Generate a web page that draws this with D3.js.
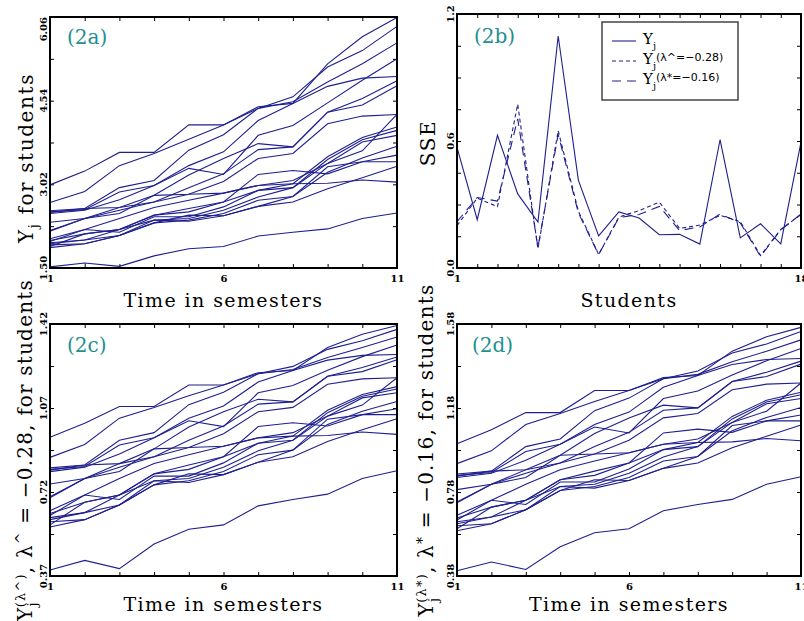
<!DOCTYPE html>
<html>
<head>
<meta charset="utf-8">
<script src="https://cdn.jsdelivr.net/npm/d3@7"></script>
<style>
  body { margin: 0; background: #fff; }
  svg { display: block; }
  text { font-family: "DejaVu Serif", serif; fill: #000; white-space: pre; }
</style>
</head>
<body>
<svg id="canvas" width="804" height="621"></svg>
<script>
const semesters = [1, 2, 3, 4, 5, 6, 7, 8, 9, 10, 11];
const students = [1, 2, 3, 4, 5, 6, 7, 8, 9, 10, 11, 12, 13, 14, 15, 16, 17, 18];

// Y_j (2a): one row per student, one value per semester
const studentScores = [
  [3.01, 3.26, 3.60, 3.60, 4.10, 4.10, 4.40, 4.52, 4.88, 5.21, 5.59],
  [2.69, 2.89, 3.36, 3.58, 3.84, 4.10, 4.43, 4.49, 5.21, 5.70, 6.05],
  [2.54, 2.58, 2.96, 3.09, 3.64, 3.92, 4.40, 4.61, 5.15, 5.45, 5.89],
  [2.52, 2.56, 2.88, 3.00, 3.36, 3.61, 4.18, 4.49, 4.80, 4.95, 4.98],
  [2.49, 2.55, 2.74, 3.00, 3.31, 3.20, 3.91, 4.09, 4.50, 4.91, 5.30],
  [2.51, 2.58, 2.60, 2.82, 3.19, 3.49, 3.76, 3.70, 4.33, 4.58, 4.90],
  [2.18, 2.40, 2.60, 2.70, 2.96, 3.21, 3.65, 3.70, 4.33, 4.46, 4.81],
  [2.17, 2.40, 2.49, 2.82, 2.84, 3.07, 3.49, 3.58, 4.12, 4.26, 4.29],
  [2.03, 2.20, 2.40, 2.60, 2.73, 2.86, 3.00, 3.09, 3.40, 3.63, 4.29],
  [2.00, 2.12, 2.20, 2.46, 2.58, 2.70, 2.91, 3.03, 3.52, 3.87, 4.06],
  [1.98, 2.20, 2.15, 2.43, 2.43, 2.61, 2.91, 2.96, 3.47, 3.83, 4.00],
  [1.96, 2.01, 2.20, 2.37, 2.40, 2.55, 2.79, 2.96, 3.40, 3.79, 3.91],
  [1.94, 2.01, 2.09, 2.32, 2.37, 2.49, 2.73, 2.80, 3.24, 3.50, 3.71],
  [1.92, 1.94, 2.09, 2.37, 2.35, 2.45, 2.62, 2.80, 3.34, 3.43, 3.55],
  [1.89, 2.12, 2.20, 2.46, 2.52, 2.70, 3.20, 3.27, 3.21, 3.43, 3.43],
  [1.87, 1.94, 2.09, 2.32, 2.46, 2.45, 2.62, 2.70, 2.94, 3.14, 3.35],
  [2.33, 2.40, 2.55, 2.70, 2.84, 2.86, 3.00, 3.03, 3.04, 3.10, 3.06],
  [1.52, 1.59, 1.53, 1.72, 1.85, 1.89, 2.08, 2.15, 2.21, 2.40, 2.50],
];

// SSE per student, panel (2b)
const sseY = [0.57, 0.228, 0.627, 0.35, 0.217, 1.096, 0.414, 0.152, 0.265, 0.236, 0.157, 0.159, 0.113, 0.606, 0.142, 0.209, 0.114, 0.595];
const sseHat = [0.20, 0.33, 0.29, 0.774, 0.09, 0.649, 0.268, 0.064, 0.241, 0.271, 0.311, 0.187, 0.203, 0.249, 0.219, 0.059, 0.182, 0.253];
const sseStar = [0.219, 0.333, 0.316, 0.705, 0.098, 0.631, 0.26, 0.063, 0.238, 0.253, 0.291, 0.177, 0.194, 0.255, 0.213, 0.055, 0.18, 0.255];

// the two Box-Cox exponents given in the chart, used for panels (2c) and (2d)
const lambdaHat = -0.28;
const lambdaStar = -0.16;

const semesterLabels = [1, 6, 11];
const studentLabels = [1, 18];
const yTicksA = [1.50, 2.26, 3.02, 3.78, 4.54, 5.30, 6.06];
const yLabelsA = ["1.50", "3.02", "4.54", "6.06"];
const yTicksB = [0, 0.15, 0.3, 0.45, 0.6, 0.75, 0.9, 1.05, 1.2];
const yLabelsB = ["0.0", "0.6", "1.2"];
const yTicksC = [0.37, 0.545, 0.72, 0.895, 1.07, 1.245, 1.42];
const yLabelsC = ["0.37", "0.72", "1.07", "1.42"];
const yTicksD = [0.38, 0.58, 0.78, 0.98, 1.18, 1.38, 1.58];
const yLabelsD = ["0.38", "0.78", "1.18", "1.58"];
const legendLabels = ["", "(λ^=−0.28)", "(λ*=−0.16)"];

const canvas = d3.select("#canvas");
const lineColor = "#1f1f8e";
const tagColor = "#1f9090";

const boxCox = (v, lambda) => (Math.pow(v, lambda) - 1) / lambda;

const styleTicks = (sel) =>
  sel
    .attr("font-family", "Liberation Sans, Arial, sans-serif")
    .attr("font-weight", "bold")
    .attr("font-size", 10);

const drawPanel = (p) => {
  const x = d3.scaleLinear().domain(p.xDomain).range([p.left, p.right]);
  const y = d3.scaleLinear().domain(p.yDomain).range([p.bottom, p.top]);
  const g = canvas.append("g");

  g.append("g")
    .attr("transform", `translate(0,${p.bottom})`)
    .call(
      d3.axisBottom(x).tickValues(p.xTicks).tickSize(-4).tickPadding(7)
        .tickFormat((d) => (p.xLabels.includes(d) ? d : ""))
    )
    .call(styleTicks);
  g.append("g")
    .attr("transform", `translate(0,${p.top})`)
    .call(d3.axisTop(x).tickValues(p.xTicks).tickSize(-4).tickFormat(""));
  g.append("g")
    .attr("transform", `translate(${p.left},0)`)
    .call(d3.axisLeft(y).tickValues(p.yTicks).tickSize(-4).tickFormat(""));
  g.append("g")
    .attr("transform", `translate(${p.right},0)`)
    .call(d3.axisRight(y).tickValues(p.yTicks).tickSize(-4).tickFormat(""));
  g.selectAll(".domain").remove();
  g.selectAll(".tick text").attr("fill", "#000");

  g.selectAll(".ylab")
    .data(p.yLabels)
    .enter()
    .append("text")
    .attr("class", "ylab")
    .call(styleTicks)
    .attr("transform", (d) => `translate(${p.left - 3},${y(+d)}) rotate(-90)`)
    .attr("text-anchor", (d, i) =>
      p.topEnd && i === p.yLabels.length - 1 ? "end" : "middle"
    )
    .text((d) => d);

  const line = d3.line().x((d) => x(d[0])).y((d) => y(d[1]));
  g.selectAll(".series")
    .data(p.series)
    .enter()
    .append("path")
    .attr("class", "series")
    .attr("d", (d) => line(d.points))
    .attr("fill", "none")
    .attr("stroke", lineColor)
    .attr("stroke-width", 1.1)
    .attr("stroke-dasharray", (d) => d.dash || null);

  g.append("rect")
    .attr("x", p.left)
    .attr("y", p.top)
    .attr("width", p.right - p.left)
    .attr("height", p.bottom - p.top)
    .attr("fill", "none")
    .attr("stroke", "#000")
    .attr("stroke-width", 2);

  g.append("text")
    .attr("x", p.tag[1])
    .attr("y", p.tag[2])
    .attr("font-family", "DejaVu Sans, sans-serif")
    .attr("font-size", 20)
    .style("fill", tagColor)
    .text(p.tag[0]);

  g.append("text")
    .attr("x", (p.left + p.right) / 2)
    .attr("y", p.xTitleY)
    .attr("text-anchor", "middle")
    .attr("font-size", 19)
    .attr("letter-spacing", 1.4)
    .text(p.xTitle);
};

// rotated y title; parts: [text, dy, size, dx]
const yTitle = (x, y, parts, spacing) => {
  const t = canvas
    .append("text")
    .attr("transform", `translate(${x},${y}) rotate(-90)`)
    .attr("text-anchor", "middle")
    .attr("font-size", 20)
    .attr("letter-spacing", spacing);
  parts.forEach(([txt, dy, size, dx]) => {
    const s = t.append("tspan").text(txt);
    if (dy) s.attr("dy", dy);
    if (dx) s.attr("dx", dx);
    if (size) s.attr("font-size", size);
  });
};

const scoreSeries = (f) =>
  studentScores.map((row) => ({
    points: row.map((v, i) => [semesters[i], f(v)]),
  }));

drawPanel({
  left: 50, right: 397, top: 17, bottom: 268,
  xDomain: [1, 11], yDomain: [1.5, 6.06],
  xTicks: semesters, xLabels: semesterLabels,
  yTicks: yTicksA, yLabels: yLabelsA, topEnd: true,
  series: scoreSeries((v) => v),
  tag: ["(2a)", 67, 44],
  xTitle: "Time in semesters", xTitleY: 307,
});

drawPanel({
  left: 457, right: 801, top: 14, bottom: 268,
  xDomain: [1, 18], yDomain: [0, 1.2],
  xTicks: students, xLabels: studentLabels,
  yTicks: yTicksB, yLabels: yLabelsB,
  series: [
    { points: sseY.map((v, i) => [students[i], v]) },
    { points: sseHat.map((v, i) => [students[i], v]), dash: "4,3" },
    { points: sseStar.map((v, i) => [students[i], v]), dash: "9,6" },
  ],
  tag: ["(2b)", 474, 43],
  xTitle: "Students", xTitleY: 307,
});

drawPanel({
  left: 50, right: 397, top: 324, bottom: 576,
  xDomain: [1, 11], yDomain: [0.37, 1.42],
  xTicks: semesters, xLabels: semesterLabels,
  yTicks: yTicksC, yLabels: yLabelsC,
  series: scoreSeries((v) => boxCox(v, lambdaHat)),
  tag: ["(2c)", 67, 352],
  xTitle: "Time in semesters", xTitleY: 611,
});

drawPanel({
  left: 457, right: 801, top: 324, bottom: 576,
  xDomain: [1, 11], yDomain: [0.38, 1.58],
  xTicks: semesters, xLabels: semesterLabels,
  yTicks: yTicksD, yLabels: yLabelsD,
  series: scoreSeries((v) => boxCox(v, lambdaStar)),
  tag: ["(2d)", 472, 352],
  xTitle: "Time in semesters", xTitleY: 611,
});

yTitle(33, 158, [["Y"], ["j", 5, 13], [" for students", -5]], 1.6);
yTitle(435, 143, [["SSE"]], 1.6);
yTitle(32, 450, [
  ["Y"], ["j", 5, 13], ["(λ^)", -12, 13, -6],
  [", λ", 7], ["^", -6, 14], [" = −0.28, for students", 6],
], 1.2);
yTitle(433, 450, [
  ["Y"], ["j", 5, 13], ["(λ*)", -12, 13, -6],
  [", λ", 7], ["*", -6, 14], [" = −0.16, for students", 6],
], 1.2);

// legend
const legend = canvas.append("g");
legend.append("rect")
  .attr("x", 602).attr("y", 22).attr("width", 136).attr("height", 78)
  .attr("fill", "#fff").attr("stroke", "#444").attr("stroke-width", 1.5);
const dashes = [null, "4,3", "9,6"];
legendLabels.forEach((lab, i) => {
  const yy = 41 + i * 20;
  legend.append("line")
    .attr("x1", 612).attr("x2", 636).attr("y1", yy).attr("y2", yy)
    .attr("stroke", lineColor).attr("stroke-width", 1.1)
    .attr("stroke-dasharray", dashes[i]);
  const t = legend.append("text").attr("x", 643).attr("y", yy + 3).attr("font-size", 15);
  t.append("tspan").text("Y");
  t.append("tspan").attr("dy", 5).attr("font-size", 10).text("j");
  if (lab) {
    t.append("tspan")
      .attr("dy", -8)
      .attr("font-size", 11)
      .attr("font-family", "DejaVu Sans, sans-serif")
      .text(lab);
  }
});
</script>
</body>
</html>
